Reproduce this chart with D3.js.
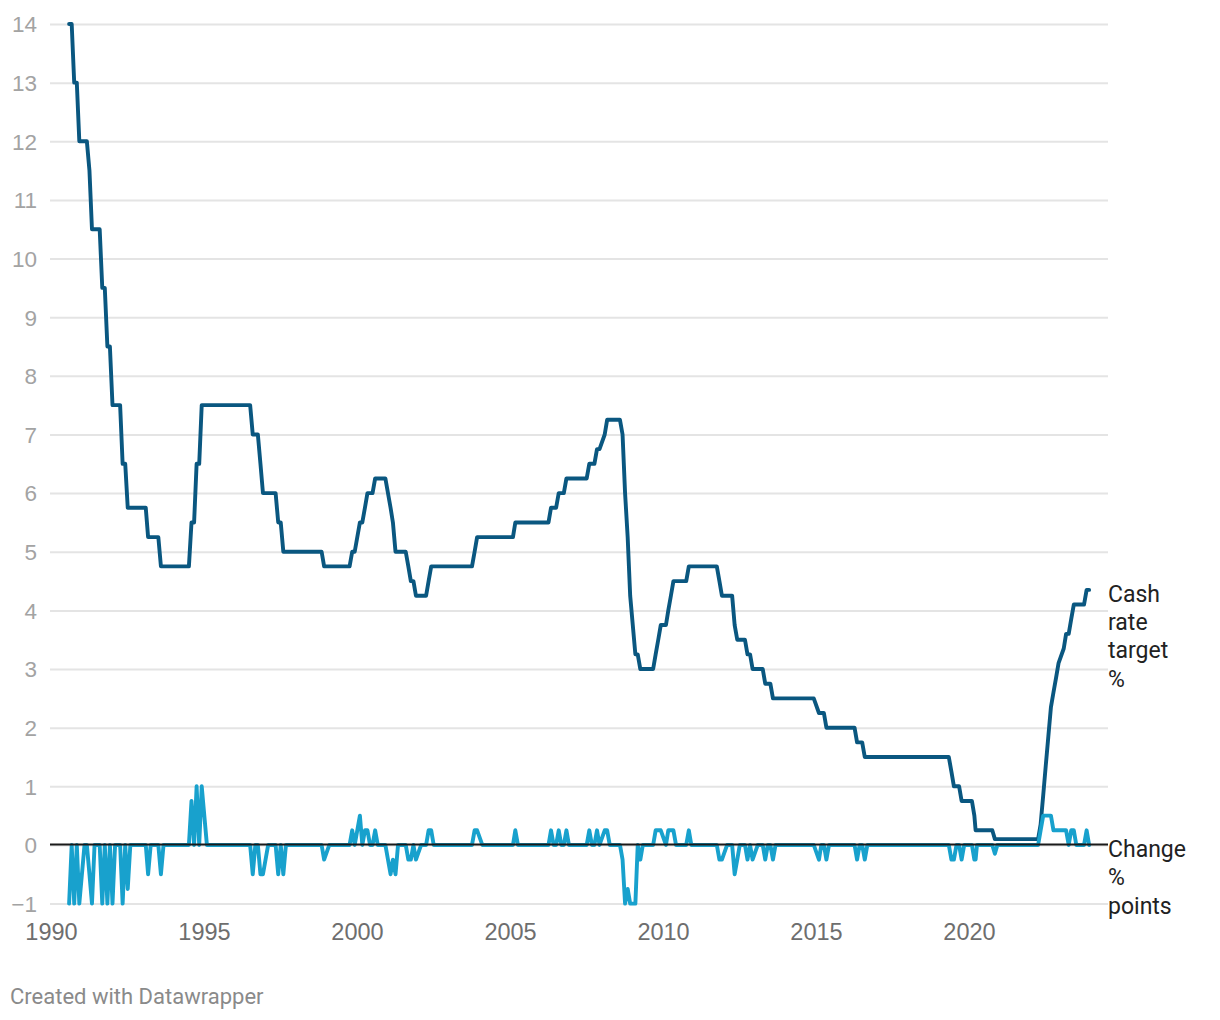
<!DOCTYPE html>
<meta charset="utf-8">
<style>
    body { margin: 0; background: #fff; }
    svg { font-family: Roboto, "Noto Sans", sans-serif; }
    .grid line { stroke: #e4e4e4; stroke-width: 2px; }
    .y-axis text { fill: #a3a3a3; font-size: 22.5px; }
    .x-axis text { fill: #6e6e6e; font-size: 23.5px; }
    .series-label { font-size: 23px; fill: #222; }
    .credit { font-size: 22px; fill: #8a8a8a; }
</style>
<svg width="1220" height="1020"></svg>
<script src="https://cdn.jsdelivr.net/npm/d3@7"></script>
<script>

    // RBA cash rate target (%), one value per board meeting; columns Jan..Dec, null = no meeting
    var firstYear = 1990;
    var cashRate = [
        [null, null, null, null, null, null, null, 14, 14, 13, 13, 12],                    // 1990
        [null, 12, 12, 11.5, 10.5, 10.5, 10.5, 10.5, 9.5, 9.5, 8.5, 8.5],                    // 1991
        [7.5, 7.5, 7.5, 7.5, 6.5, 6.5, 5.75, 5.75, 5.75, 5.75, 5.75, 5.75],                  // 1992
        [null, 5.75, 5.25, 5.25, 5.25, 5.25, 5.25, 4.75, 4.75, 4.75, 4.75, 4.75],            // 1993
        [null, 4.75, 4.75, 4.75, 4.75, 4.75, 4.75, 5.5, 5.5, 6.5, 6.5, 7.5],                 // 1994
        [null, 7.5, 7.5, 7.5, 7.5, 7.5, 7.5, 7.5, 7.5, 7.5, 7.5, 7.5],                       // 1995
        [null, 7.5, 7.5, 7.5, 7.5, 7.5, 7.5, 7, 7, 7, 6.5, 6],                               // 1996
        [null, 6, 6, 6, 6, 5.5, 5.5, 5, 5, 5, 5, 5],                                         // 1997
        [null, 5, 5, 5, 5, 5, 5, 5, 5, 5, 5, 4.75],                                          // 1998
        [null, 4.75, 4.75, 4.75, 4.75, 4.75, 4.75, 4.75, 4.75, 4.75, 5, 5],                  // 1999
        [null, 5.5, 5.5, 5.75, 6, 6, 6, 6.25, 6.25, 6.25, 6.25, 6.25],                       // 2000
        [null, 5.75, 5.5, 5, 5, 5, 5, 5, 4.75, 4.5, 4.5, 4.25],                              // 2001
        [null, 4.25, 4.25, 4.25, 4.5, 4.75, 4.75, 4.75, 4.75, 4.75, 4.75, 4.75],             // 2002
        [null, 4.75, 4.75, 4.75, 4.75, 4.75, 4.75, 4.75, 4.75, 4.75, 5, 5.25],               // 2003
        [null, 5.25, 5.25, 5.25, 5.25, 5.25, 5.25, 5.25, 5.25, 5.25, 5.25, 5.25],            // 2004
        [null, 5.25, 5.5, 5.5, 5.5, 5.5, 5.5, 5.5, 5.5, 5.5, 5.5, 5.5],                      // 2005
        [null, 5.5, 5.5, 5.5, 5.75, 5.75, 5.75, 6, 6, 6, 6.25, 6.25],                        // 2006
        [null, 6.25, 6.25, 6.25, 6.25, 6.25, 6.25, 6.5, 6.5, 6.5, 6.75, 6.75],               // 2007
        [null, 7, 7.25, 7.25, 7.25, 7.25, 7.25, 7.25, 7, 6, 5.25, 4.25],                     // 2008
        [null, 3.25, 3.25, 3, 3, 3, 3, 3, 3, 3.25, 3.5, 3.75],                               // 2009
        [null, 3.75, 4, 4.25, 4.5, 4.5, 4.5, 4.5, 4.5, 4.5, 4.75, 4.75],                     // 2010
        [null, 4.75, 4.75, 4.75, 4.75, 4.75, 4.75, 4.75, 4.75, 4.75, 4.5, 4.25],             // 2011
        [null, 4.25, 4.25, 4.25, 3.75, 3.5, 3.5, 3.5, 3.5, 3.25, 3.25, 3],                   // 2012
        [null, 3, 3, 3, 2.75, 2.75, 2.75, 2.5, 2.5, 2.5, 2.5, 2.5],                          // 2013
        [null, 2.5, 2.5, 2.5, 2.5, 2.5, 2.5, 2.5, 2.5, 2.5, 2.5, 2.5],                       // 2014
        [null, 2.25, 2.25, 2.25, 2, 2, 2, 2, 2, 2, 2, 2],                                    // 2015
        [null, 2, 2, 2, 1.75, 1.75, 1.75, 1.5, 1.5, 1.5, 1.5, 1.5],                          // 2016
        [null, 1.5, 1.5, 1.5, 1.5, 1.5, 1.5, 1.5, 1.5, 1.5, 1.5, 1.5],                       // 2017
        [null, 1.5, 1.5, 1.5, 1.5, 1.5, 1.5, 1.5, 1.5, 1.5, 1.5, 1.5],                       // 2018
        [null, 1.5, 1.5, 1.5, 1.5, 1.25, 1, 1, 1, 0.75, 0.75, 0.75],                         // 2019
        [null, 0.75, 0.5, 0.25, 0.25, 0.25, 0.25, 0.25, 0.25, 0.25, 0.1, 0.1],               // 2020
        [null, 0.1, 0.1, 0.1, 0.1, 0.1, 0.1, 0.1, 0.1, 0.1, 0.1, 0.1],                       // 2021
        [null, 0.1, 0.1, 0.1, 0.35, 0.85, 1.35, 1.85, 2.35, 2.6, 2.85, 3.1],                 // 2022
        [null, 3.35, 3.6, 3.6, 3.85, 4.1, 4.1, 4.1, 4.1, 4.1, 4.35, 4.35]                    // 2023
    ];
    // unscheduled meeting (20 March 2020)
    var extraMeetings = [["2020-03-20", 0.25]];
    var rateBefore = 15;   // July 1990, before the first point

    var yTicks = [-1, 0, 1, 2, 3, 4, 5, 6, 7, 8, 9, 10, 11, 12, 13, 14];
    var xTickYears = [1990, 1995, 2000, 2005, 2010, 2015, 2020];
    var rateLabel = ["Cash", "rate", "target", "%"];
    var changeLabel = ["Change", "%", "points"];

    // build the meeting table
    var points = [];
    cashRate.forEach(function(row, i) {
        row.forEach(function(v, m) {
            if (v !== null) points.push({ date: new Date(firstYear + i, m, 5), rate: v });
        });
    });
    extraMeetings.forEach(function(e) {
        points.push({ date: d3.timeParse("%Y-%m-%d")(e[0]), rate: e[1] });
    });
    points.sort(function(a, b) { return a.date - b.date; });
    points.forEach(function(d, i) {
        var prev = i === 0 ? rateBefore : points[i - 1].rate;
        d.change = Math.round((d.rate - prev) * 100) / 100;
    });

    var svg = d3.select("svg");
    var left = 50, right = 1108;

    var x = d3.scaleTime()
        .domain([new Date(1990, 0, 1), new Date(2024, 0, 1)])
        .range([51, 51 + 34 * 30.6]);

    var y = d3.scaleLinear()
        .domain([-1, 14])
        .range([903.6, 24]);

    // gridlines + y labels
    svg.append("g")
        .attr("class", "grid y-axis")
        .attr("transform", "translate(" + left + ",0)")
        .call(d3.axisLeft(y).tickValues(yTicks).tickSize(-(right - left)).tickPadding(13))
        .call(function(g) { g.select(".domain").remove(); })
        .call(function(g) { g.selectAll("text").attr("font-family", null).attr("font-size", null).attr("dy", "0.35em"); });

    // x labels
    svg.append("g")
        .attr("class", "x-axis")
        .attr("transform", "translate(0,914)")
        .call(d3.axisBottom(x)
            .tickValues(xTickYears.map(function(yr) { return new Date(yr, 0, 1); }))
            .tickSize(0).tickPadding(9)
            .tickFormat(d3.timeFormat("%Y")))
        .call(function(g) { g.select(".domain").remove(); })
        .call(function(g) { g.selectAll("text").attr("font-family", null).attr("font-size", null); });

    var rateLine = d3.line()
        .x(function(d) { return x(d.date); })
        .y(function(d) { return y(d.rate); });

    var changeLine = d3.line()
        .x(function(d) { return x(d.date); })
        .y(function(d) { return y(d.change); });

    svg.append("path")
        .datum(points)
        .attr("fill", "none")
        .attr("stroke", "#0a5780")
        .attr("stroke-width", 3.9)
        .attr("stroke-linejoin", "round")
        .attr("stroke-linecap", "round")
        .attr("d", rateLine);

    svg.append("path")
        .datum(points)
        .attr("fill", "none")
        .attr("stroke", "#18a1cd")
        .attr("stroke-width", 3.9)
        .attr("stroke-linejoin", "round")
        .attr("stroke-linecap", "round")
        .attr("d", changeLine);

    // zero baseline
    svg.append("line")
        .attr("x1", left).attr("x2", right)
        .attr("y1", y(0) - 0.5).attr("y2", y(0) - 0.5)
        .attr("stroke", "#1a1a1a")
        .attr("stroke-width", 2);

    // line labels
    var last = points[points.length - 1];
    function addLabel(lines, value) {
        var t = svg.append("text")
            .attr("class", "series-label")
            .attr("x", right)
            .attr("y", y(value) + 12);
        t.selectAll("tspan")
            .data(lines)
            .enter().append("tspan")
            .attr("x", right)
            .attr("dy", function(d, i) { return i === 0 ? 0 : 28.3; })
            .text(function(d) { return d; });
    }
    addLabel(rateLabel, last.rate);
    addLabel(changeLabel, last.change);

    svg.append("text")
        .attr("class", "credit")
        .attr("x", 10)
        .attr("y", 1004)
        .text("Created with Datawrapper");

</script>
